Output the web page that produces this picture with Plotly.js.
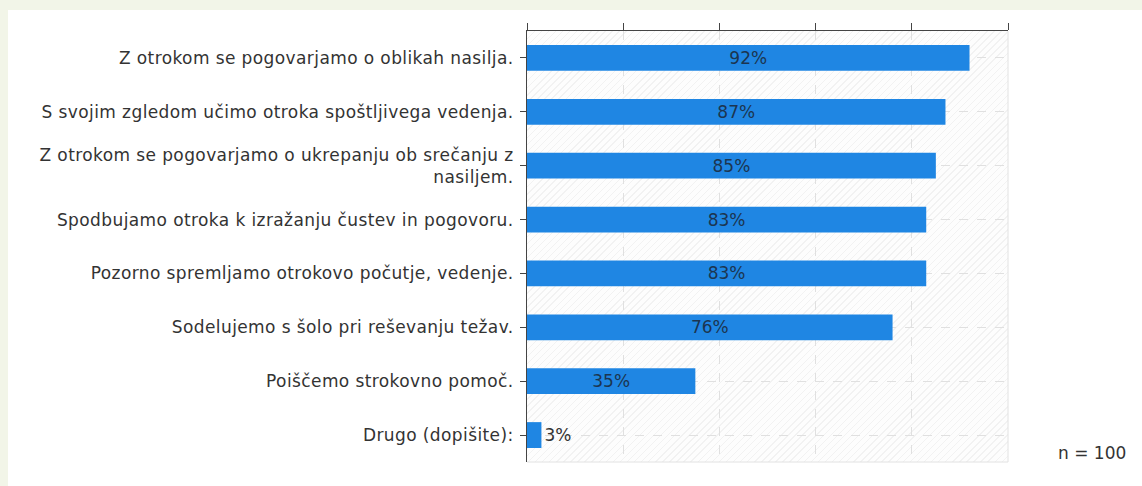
<!DOCTYPE html>
<html>
<head>
<meta charset="utf-8">
<script src="https://cdn.plot.ly/plotly-3.0.1.min.js"></script>
<style>
  html, body { margin:0; padding:0; background:#f2f5e8; }
  #panel { position:absolute; left:8px; top:10px; width:1134px; height:476px; background:#ffffff; }
  #hatch { position:absolute; left:527px; top:31px; width:481px; height:431px;
    background-color:#fdfdfd;
    background-image: repeating-linear-gradient(135deg, rgba(0,0,0,0.045) 0px, rgba(0,0,0,0.045) 1px, transparent 1px, transparent 5px); }
  #chart { position:absolute; left:0; top:0; width:1142px; height:486px; }
  #chart .ytick text { letter-spacing: 0.4px; }
</style>
</head>
<body>
<div id="panel"></div>
<div id="hatch"></div>
<div id="chart"></div>
<script>
const categories = [
  "Z otrokom se pogovarjamo o oblikah nasilja.",
  "S svojim zgledom učimo otroka spoštljivega vedenja.",
  "Z otrokom se pogovarjamo o ukrepanju ob srečanju z<br>nasiljem.",
  "Spodbujamo otroka k izražanju čustev in pogovoru.",
  "Pozorno spremljamo otrokovo počutje, vedenje.",
  "Sodelujemo s šolo pri reševanju težav.",
  "Poiščemo strokovno pomoč.",
  "Drugo (dopišite):"
];
const values = [92, 87, 85, 83, 83, 76, 35, 3];
const valueLabels = values.map(v => v + "%");
const sampleNote = "n = 100";

const FONT = "DejaVu Sans, Verdana, sans-serif";

const trace = {
  type: "bar",
  orientation: "h",
  y: categories,
  x: values,
  text: valueLabels,
  textposition: values.map(v => v > 10 ? "inside" : "outside"),
  insidetextanchor: "middle",
  constraintext: "none",
  cliponaxis: false,
  textfont: { family: FONT, size: 17 },
  insidetextfont: { color: "#1c3550", family: FONT, size: 17 },
  outsidetextfont: { color: "#333333", family: FONT, size: 17 },
  marker: { color: "#1f86e3", line: { width: 0 } },
  hoverinfo: "none"
};

const layout = {
  width: 1142, height: 486,
  margin: { l: 527, r: 134, t: 31, b: 24, pad: 0 },
  paper_bgcolor: "rgba(0,0,0,0)",
  plot_bgcolor: "rgba(0,0,0,0)",
  bargap: 0.52,
  showlegend: false,
  font: { family: FONT, size: 17, color: "#333333" },
  xaxis: {
    side: "top", range: [0, 100], dtick: 20, tick0: 0,
    showticklabels: false, ticks: "outside", ticklen: 7, tickcolor: "#444", tickwidth: 1,
    showline: true, linecolor: "#444", linewidth: 1, mirror: false,
    showgrid: true, gridcolor: "#e0e0e0", griddash: "dash", gridwidth: 1,
    zeroline: false, fixedrange: true
  },
  yaxis: {
    autorange: "reversed", type: "category",
    ticks: "outside", ticklen: 6, tickcolor: "#444",
    showline: true, linecolor: "#444", linewidth: 1,
    showgrid: true, gridcolor: "#e0e0e0", griddash: "dash", gridwidth: 1,
    tickfont: { size: 17, color: "#333333" },
    ticklabelstandoff: 3,
    zeroline: false, fixedrange: true
  },
  shapes: [
    { type: "line", xref: "paper", yref: "paper", x0: 1, x1: 1, y0: 0, y1: 1, line: { color: "#e2e2e2", width: 1 } },
    { type: "line", xref: "paper", yref: "paper", x0: 0, x1: 1, y0: 0, y1: 0, line: { color: "#e2e2e2", width: 1 } }
  ],
  annotations: [
    { text: sampleNote, xref: "paper", yref: "paper", x: 1.25, y: 0.02, xanchor: "right", yanchor: "middle",
      showarrow: false, font: { size: 17, color: "#333333" } }
  ]
};

Plotly.newPlot("chart", [trace], layout, { displayModeBar: false, staticPlot: true });
</script>
</body>
</html>
